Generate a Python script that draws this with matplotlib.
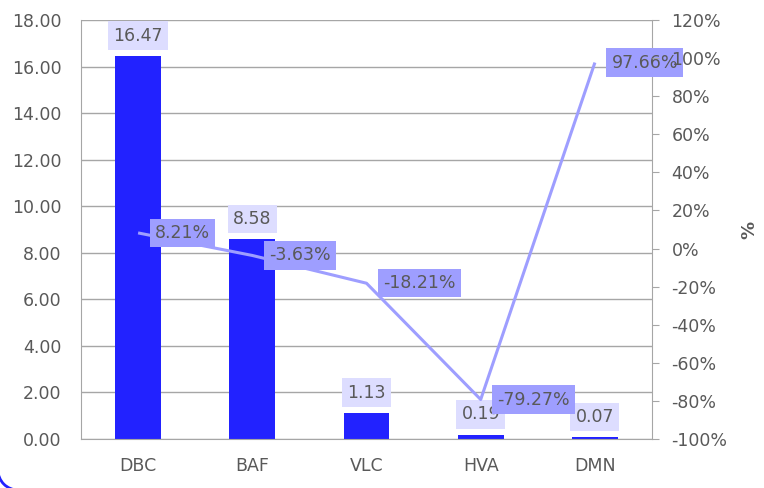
import matplotlib
matplotlib.use("Agg")
import matplotlib.pyplot as plt
from matplotlib.patches import Arc
import numpy as np

categories = ["DBC", "BAF", "VLC", "HVA", "DMN"]
values = [16.47, 8.58, 1.13, 0.19, 0.07]
pct = [8.21, -3.63, -18.21, -79.27, 97.66]
left_ticks = [0, 2, 4, 6, 8, 10, 12, 14, 16, 18]
right_ticks = [-100, -80, -60, -40, -20, 0, 20, 40, 60, 80, 100, 120]

TXT = "#595959"
GRID = "#A6A6A6"
BAR = "#2222FF"
LINE = "#9E9EFF"
LBL_BAR = "#DDDDFF"
LBL_LINE = "#9E9EFF"
FS = 12.5

plt.rcParams["font.family"] = ["DejaVu Sans"]
fig = plt.figure(figsize=(7.64, 4.88), dpi=100)
ax = fig.add_axes([81/764, 1-439/488, (652-81)/764, (439-20)/488])
ax2 = ax.twinx()

x = np.arange(len(categories))
ax.bar(x, values, width=0.4, color=BAR, zorder=2)
ax.set_xlim(-0.5, len(categories)-0.5)
ax.set_ylim(0, 18)
ax.set_yticks(left_ticks)
ax.set_yticklabels([f"{v:.2f}" for v in left_ticks])
ax.set_xticks(x)
ax.set_xticklabels(categories)
ax.yaxis.grid(True, color=GRID, lw=1, zorder=0)
ax.set_axisbelow(True)
ax.tick_params(axis="y", length=0, labelsize=FS, colors=TXT, pad=14)
ax.tick_params(axis="x", length=0, labelsize=FS, colors=TXT, pad=13)
for s in ["top", "right"]:
    ax.spines[s].set_visible(False)
for s in ["left", "bottom"]:
    ax.spines[s].set_color(GRID)

for xi, v in zip(x, values):
    ax.annotate(f"{v:.2f}", (xi, v), xytext=(0, 8), textcoords="offset points",
                ha="center", va="bottom", fontsize=FS, color=TXT, zorder=5,
                bbox=dict(boxstyle="square,pad=0.3", fc=LBL_BAR, ec="none"))

ax2.plot(x, pct, color=LINE, lw=2.2, zorder=3, solid_capstyle="butt")
ax2.set_ylim(-100, 120)
ax2.set_yticks(right_ticks)
ax2.set_yticklabels([f"{v}%" for v in right_ticks])
ax2.tick_params(axis="y", length=5, color=GRID, labelsize=FS, labelcolor=TXT, pad=9)
for s in ["top", "left", "bottom"]:
    ax2.spines[s].set_visible(False)
ax2.spines["right"].set_color(GRID)
ax2.set_ylabel("%", fontsize=13, color=TXT, fontweight="bold", labelpad=9)
ax2.yaxis.set_zorder(10)

for xi, p in zip(x, pct):
    ax2.annotate(f"{p:.2f}%", (xi, p), xytext=(12, 0), textcoords="offset points",
                 ha="left", va="center", fontsize=FS, color=TXT, zorder=6,
                 annotation_clip=False,
                 bbox=dict(boxstyle="square,pad=0.3", fc=LBL_LINE, ec="none"))

arc = Arc((18, 18), 40, 40, angle=0, theta1=180, theta2=270, color=BAR, lw=2)
arc.set_transform(matplotlib.transforms.IdentityTransform())
fig.patches.append(arc)

fig.savefig("out.png", dpi=100)
